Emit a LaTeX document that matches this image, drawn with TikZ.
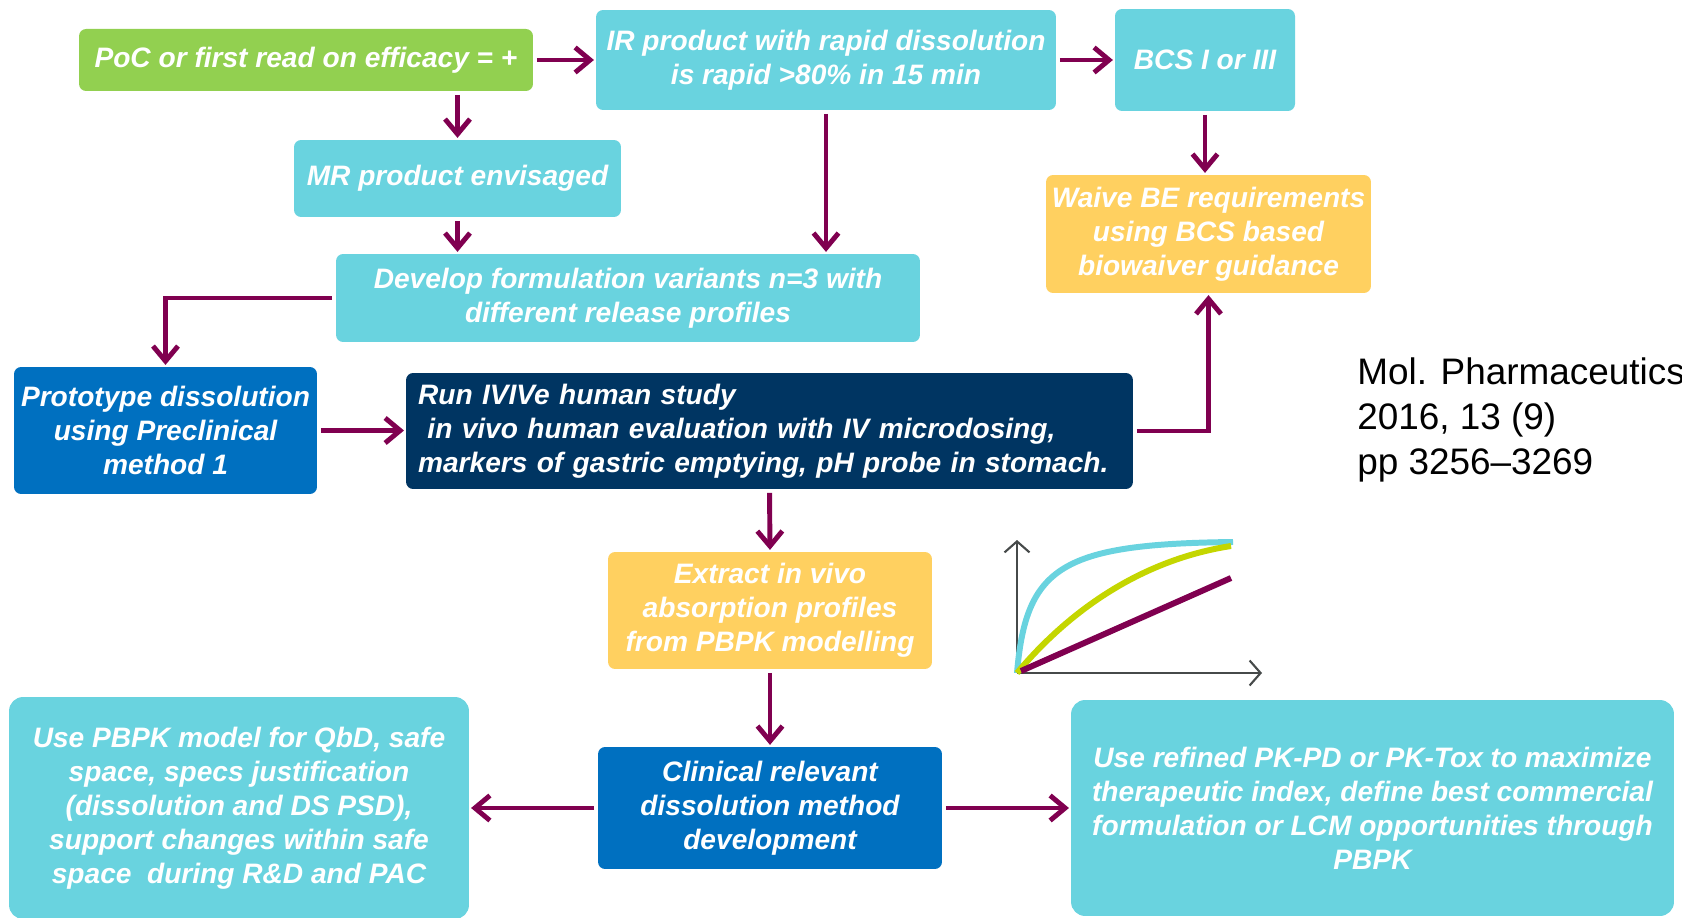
\documentclass[tikz,border=0pt]{standalone}
\usepackage{fontspec}
\setmainfont{Liberation Sans}
\usetikzlibrary{positioning, arrows.meta}
\usepackage{xcolor}
\definecolor{boxcyan}{RGB}{105,211,223}
\definecolor{boxgreen}{RGB}{146,208,80}
\definecolor{boxyellow}{RGB}{255,208,96}
\definecolor{boxblue}{RGB}{0,112,192}
\definecolor{boxnavy}{RGB}{0,53,98}
\definecolor{flowpurple}{RGB}{128,0,80}
\definecolor{curvegreen}{RGB}{196,214,0}
\definecolor{axisgrey}{RGB}{70,74,74}

\begin{document}
\begin{tikzpicture}[
  x=0.02cm, y=-0.02cm,
  every node/.style={font=\fontsize{16}{19.3}\selectfont\bfseries\itshape, text=white},
  box/.style={
    rectangle, rounded corners=4pt,
    align=center, inner sep=2pt
  },
  flow/.style={
    -{Straight Barb[length=0.3cm, width=0.5cm]},
    line width=2.8pt, draw=flowpurple,
    shorten <=2pt, shorten >=1pt
  },
  axis/.style={
    -{Straight Barb[length=0.22cm, width=0.5cm]},
    line width=1.2pt, draw=axisgrey
  },
  curve/.style={line width=3.4pt, line cap=butt}
]
\useasboundingbox (0,0) rectangle (1682,918);

% ---- Top row ----
\node[box, fill=boxgreen, minimum width=9.08cm, minimum height=1.24cm]
  (poc) at (306, 60) {PoC or first read on efficacy = +};
\node[box, fill=boxcyan, minimum width=9.2cm, minimum height=2cm]
  (ir) at (826, 60) {IR product with rapid dissolution\\is rapid >80\% in 15 min};
\node[box, fill=boxcyan, minimum width=3.6cm, minimum height=2.04cm]
  (bcs) at (1205, 60) {BCS I or III};

% ---- Second row ----
\node[box, fill=boxcyan, minimum width=6.54cm, minimum height=1.54cm]
  (mr) at (457.5, 178.5) {MR product envisaged};
\node[box, fill=boxyellow, minimum width=6.5cm, minimum height=2.36cm]
  (waive) at (1208.5, 234)
  {Waive BE requirements\\using BCS based\\biowaiver guidance};
\node[box, fill=boxcyan, minimum width=11.68cm, minimum height=1.76cm]
  (develop) at (628, 298)
  {Develop formulation variants n=3 with\\different release profiles};

% ---- Study row ----
\node[box, fill=boxblue, minimum width=6.06cm, minimum height=2.54cm]
  (proto) at (165.5, 430.5)
  {Prototype dissolution\\using Preclinical\\method 1};
\node[box, fill=boxnavy, minimum height=2.32cm, text width=14.06cm,
  inner xsep=0.24cm, align=left]
  (run) at (769.5, 431)
  {Run IVIVe human study\\
   \mbox{}\ in vivo human evaluation with IV microdosing,\\
   markers of gastric emptying, pH probe in stomach.};

% ---- Lower part ----
\node[box, fill=boxyellow, minimum width=6.48cm, minimum height=2.34cm]
  (extract) at (770, 610.5)
  {Extract in vivo\\absorption profiles\\from PBPK modelling};
\node[box, fill=boxblue, minimum width=6.88cm, minimum height=2.44cm]
  (clinical) at (770, 808)
  {Clinical relevant\\dissolution method\\development};
\node[box, fill=boxcyan, rounded corners=8pt,
  minimum width=9.2cm, minimum height=4.44cm]
  (qbd) at (239, 808)
  {Use PBPK model for QbD, safe\\space, specs justification\\
   (dissolution and DS PSD),\\support changes within safe\\
   space\ \ during R\&D and PAC};
\node[box, fill=boxcyan, rounded corners=8pt,
  minimum width=12.06cm, minimum height=4.32cm]
  (refine) at (1372.5, 808)
  {Use refined PK-PD or PK-Tox to maximize\\
   therapeutic index, define best commercial\\
   formulation or LCM opportunities through\\PBPK};

% ---- Reference ----
\node[anchor=west, align=left, inner sep=0pt, text=black,
  font=\fontsize{21}{25.6}\selectfont]
  (paper) at (1357, 420)
  {Mol. Pharmaceutics\\2016, 13 (9)\\pp 3256--3269};

% ---- Arrows ----
\draw[flow] (poc) -- (ir);
\draw[flow] (ir) -- (bcs);
\draw[flow] (mr.north |- poc.south) -- (mr.north);
\draw[flow] (mr.south) -- (mr.south |- develop.north);
\draw[flow] (ir.south) -- (ir.south |- develop.north);
\draw[flow] (bcs.south) -- (bcs.south |- waive.north);
\draw[flow] (develop.west) -| (proto.north);
\draw[flow] (proto.east) -- (proto.east -| run.west);
\draw[flow] (run.east) -| (waive.south);
\draw[flow] (run.south) -- (extract.north);
\draw[flow] (extract) -- (clinical);
\draw[flow] (clinical) -- (qbd);
\draw[flow] (clinical) -- (refine);

% ---- Release profile sketch ----
\coordinate (origin) at (1017, 673);
\draw[axis] (origin) -- (1017, 540);
\draw[axis] (origin) -- (1262, 673);
\draw[curve, draw=boxcyan] (origin)
  .. controls (1026, 566) and (1062, 544) .. (1233, 542);
\draw[curve, draw=curvegreen] (origin)
  .. controls (1068, 612) and (1140, 560) .. (1231, 546);
\draw[curve, draw=flowpurple] (1021, 671) -- (1231, 578);

\end{tikzpicture}
\end{document}
